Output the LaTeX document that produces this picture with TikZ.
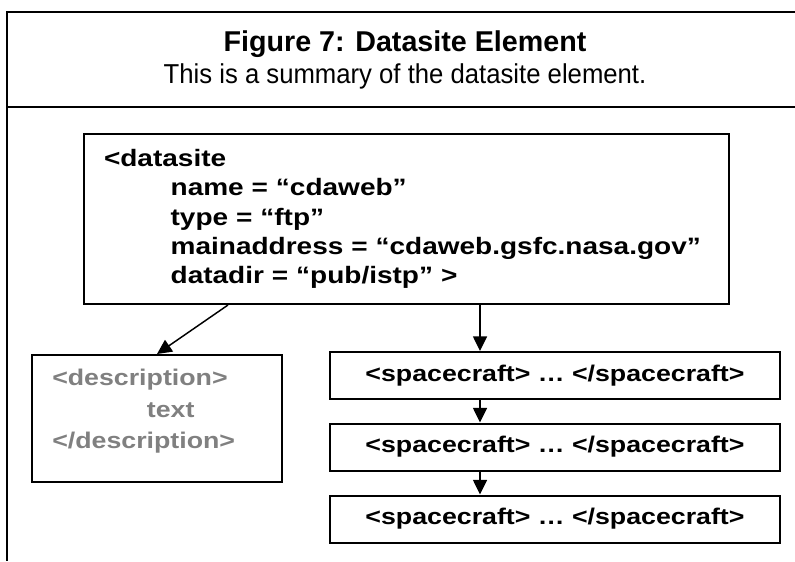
\documentclass[tikz,border=0pt]{standalone}
\usepackage{fontspec}
\setmainfont{Liberation Sans}
\newfontfamily\boxfont[FakeStretch=1.18]{Liberation Sans}
\newfontfamily\subfont[FakeStretch=0.94]{Liberation Sans}
\usetikzlibrary{arrows.meta,positioning,calc}

\begin{document}
\begin{tikzpicture}[x=0.75pt,y=-0.75pt,
    tagbox/.style={draw,line width=1.5pt,inner sep=0pt,
      font=\boxfont\fontsize{17}{22}\selectfont\bfseries},
    link/.style={-{Triangle[length=11pt,width=10.5pt]},line width=1.1pt}]
      \useasboundingbox (0,0) rectangle (795,561);
      % frame
      \draw[line width=1.5pt] (795,12) -| (7,561);
      \draw[line width=1.5pt] (7,107) -- (795,107);
      \node[anchor=base,inner sep=0pt] (title) at (405,51)
        {\fontsize{21.5}{24}\selectfont\bfseries Figure 7: Datasite Element};
      \node[anchor=base,inner sep=0pt] (subtitle) at (405,83)
        {\subfont\fontsize{20.5}{24}\selectfont This is a summary of the datasite element.};

      % datasite element
      \node[tagbox,anchor=north west,minimum height=170*0.75pt,
        text width=605*0.75pt,align=left,inner xsep=20*0.75pt,
        font=\boxfont\fontsize{17.8}{22}\selectfont\bfseries]
        (datasite) at (83,133) {<datasite\\
        \hspace*{50pt}name = “cdaweb”\\
        \hspace*{50pt}type = “ftp”\\
        \hspace*{50pt}mainaddress = “cdaweb.gsfc.nasa.gov”\\
        \hspace*{50pt}datadir = “pub/istp” >};

      % description
      \node[tagbox,anchor=north west,minimum width=250*0.75pt,
        minimum height=127*0.75pt] (desc) at (31,354) {};
      \node[anchor=north west,inner sep=0pt,align=left,text=black!50,
        font=\boxfont\fontsize{17}{23.5}\selectfont\bfseries]
        (desctext) at ($(desc.north west)+(21,15)$) {<description>\\
        \hspace*{71pt}text\\
        </description>};

      % spacecraft list
      \node[tagbox,minimum width=450*0.75pt,minimum height=47*0.75pt]
        (craftA) at (555,375.5) {<spacecraft> … </spacecraft>};
      \node[tagbox,minimum width=450*0.75pt,minimum height=47*0.75pt]
        (craftB) at (555,447) {<spacecraft> … </spacecraft>};
      \node[tagbox,minimum width=450*0.75pt,minimum height=47*0.75pt]
        (craftC) at (555,519) {<spacecraft> … </spacecraft>};

      \coordinate (split) at ($(datasite.south west)+(145,0)$);
      \coordinate (trunk) at (480,0);
      \draw[link] (split) -- (desc.north);
      \draw[link] (datasite.south -| trunk) -- (craftA.north -| trunk);
      \draw[link] (craftA.south -| trunk) -- (craftB.north -| trunk);
      \draw[link] (craftB.south -| trunk) -- (craftC.north -| trunk);
\end{tikzpicture}
\end{document}
